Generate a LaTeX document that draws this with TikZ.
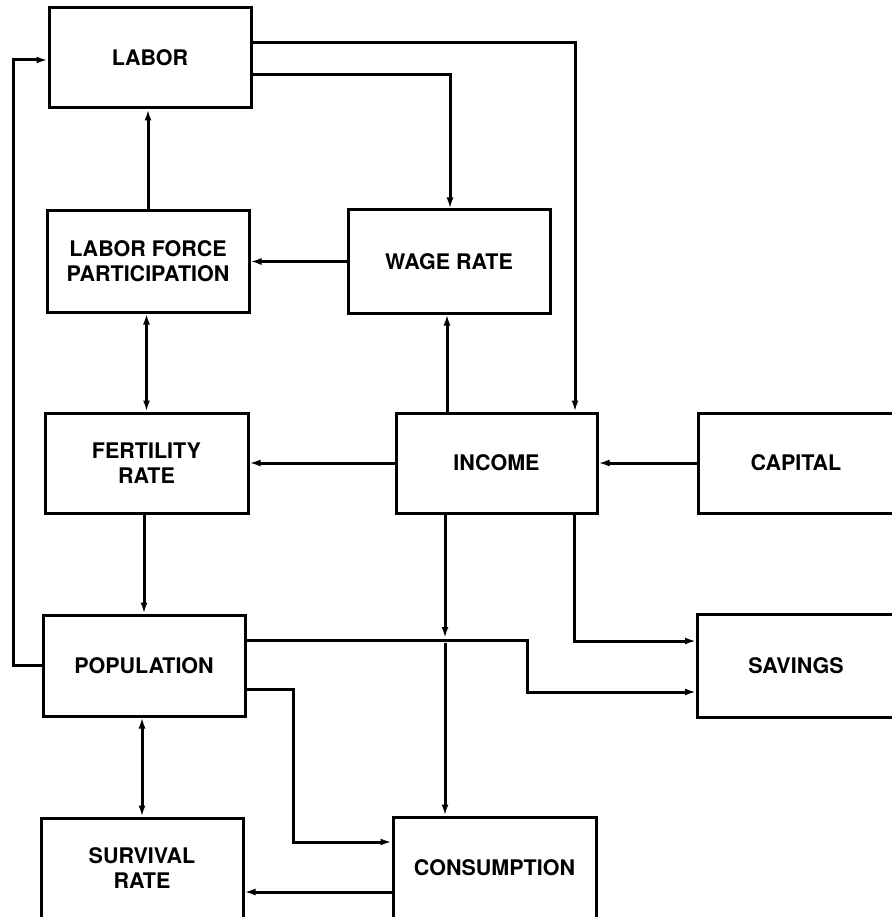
\documentclass[tikz,border=0pt]{standalone}
\usepackage{fontspec}
\setmainfont{TeX Gyre Heros}
\usetikzlibrary{arrows.meta}
\begin{document}
\begin{tikzpicture}[x=1pt,y=-1pt,
  box/.style={draw,line width=3pt,rectangle,inner sep=0pt,align=center,
    font=\bfseries\fontsize{21.5}{25}\selectfont},
  conn/.style={line width=3pt},
  arr/.style={conn,-{Latex[length=11pt,width=7pt]}},
  arrtwo/.style={conn,{Latex[length=11pt,width=7pt]}-{Latex[length=11pt,width=7pt]}}]
\useasboundingbox (0,0) rectangle (891,917);
% boxes
\node[box,minimum width=202pt,minimum height=100pt] (labor) at (150,58) {LABOR};
\node[box,minimum width=202pt,minimum height=101pt] (lfp) at (148,261.5) {LABOR FORCE\\PARTICIPATION};
\node[box,minimum width=202pt,minimum height=103pt] (wage) at (449,261.5) {WAGE RATE};
\node[box,minimum width=203pt,minimum height=100pt] (fert) at (146.5,463) {FERTILITY\\RATE};
\node[box,minimum width=201pt,minimum height=100pt] (income) at (496.5,463) {INCOME};
\node[box,minimum width=196pt,minimum height=100pt] (capital) at (796,463) {CAPITAL};
\node[box,minimum width=202pt,minimum height=101pt] (pop) at (144,665.5) {POPULATION};
\node[box,minimum width=197pt,minimum height=103pt] (savings) at (796,665.5) {SAVINGS};
\node[box,minimum width=202pt,minimum height=100pt] (survival) at (142,868) {SURVIVAL\\RATE};
\node[box,minimum width=203pt,minimum height=101pt] (consumption) at (494.5,867.5) {CONSUMPTION};
% helper coordinates
\coordinate (a1) at (575,43);
\coordinate (a2) at (450,75);
\coordinate (c447) at (447,0);
\coordinate (lx) at (13,60);
\coordinate (cx) at (445,0);
\coordinate (xa) at (445,638);
\coordinate (xb) at (445,643);
\coordinate (s1) at (574,641);
\coordinate (p1) at (527,640);
\coordinate (p2) at (527,692);
\coordinate (q1) at (293,689);
\coordinate (q2) at (293,842);
\coordinate (r1) at (0,892);
% connectors
\draw[arr] (labor.east |- a1) -- (a1) -- (income.north -| a1);
\draw[arr] (labor.east |- a2) -- (a2) -- (wage.north -| a2);
\draw[arr] (lfp.north) -- (labor.south -| lfp.north);
\draw[arr] (wage.west) -- (lfp.east);
\draw[arrtwo] (lfp.south -| fert.north) -- (fert.north);
\draw[arr] (income.north -| c447) -- (wage.south -| c447);
\draw[arr] (income.west) -- (fert.east);
\draw[arr] (capital.west) -- (income.east);
\draw[arr] (fert.south -| pop.north) -- (pop.north);
\draw[arr] (pop.west) -| (lx) -- (labor.west |- lx);
\draw[arr] (income.south -| cx) -- (xa);
\draw[arr] (xb) -- (consumption.north -| cx);
\draw[arr] (income.south -| s1) -- (s1) -- (savings.west |- s1);
\draw[arr] (pop.east |- p1) -- (p1) -- (p2) -- (savings.west |- p2);
\draw[arr] (pop.east |- q1) -- (q1) -- (q2) -- (consumption.west |- q2);
\draw[arrtwo] (pop.south -| survival.north) -- (survival.north);
\draw[arr] (consumption.west |- r1) -- (survival.east |- r1);
\end{tikzpicture}
\end{document}
